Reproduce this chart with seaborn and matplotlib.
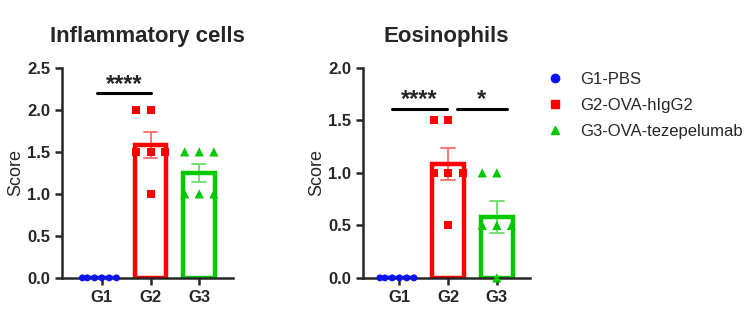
import matplotlib
matplotlib.use("Agg")
import matplotlib.pyplot as plt
import seaborn as sns
import pandas as pd
from matplotlib.lines import Line2D

sns.set_theme(style="ticks")
plt.rcParams['font.family'] = ['Liberation Sans', 'DejaVu Sans']

groups = ["G1", "G2", "G3"]
legend_labels = ["G1-PBS", "G2-OVA-hIgG2", "G3-OVA-tezepelumab"]
colors = ["#0A14F0", "#FF0000", "#00C800"]
markers = ["o", "s", "^"]

inflam_g1 = [0, 0, 0, 0, 0, 0]
inflam_g2 = [2.0, 2.0, 1.5, 1.5, 1.5, 1.0]
inflam_g3 = [1.5, 1.5, 1.5, 1.0, 1.0, 1.0]

eos_g1 = [0, 0, 0, 0, 0, 0]
eos_g2 = [1.5, 1.5, 1.0, 1.0, 1.0, 0.5]
eos_g3 = [1.0, 1.0, 0.5, 0.5, 0.5, 0.0]

titles = ["Inflammatory cells", "Eosinophils"]
ylims = [2.5, 2.0]
yticks = [[0, 0.5, 1.0, 1.5, 2.0, 2.5], [0, 0.5, 1.0, 1.5, 2.0]]
# significance: (x1, x2, y, text)
sig_inflam = [(-0.1, 1.0, 2.2, "****")]
sig_eos = [(-0.15, 0.98, 1.61, "****"), (1.18, 2.2, 1.61, "*")]

# marker visual size (pt) and swarm spacing size (pt)
marker_pt = [5.0, 5.8, 6.6]
spacing_pt = [4.2, 10.0, 10.0]


def make_df(a, b, c):
    return pd.DataFrame({
        "group": ["G1"] * len(a) + ["G2"] * len(b) + ["G3"] * len(c),
        "score": list(a) + list(b) + list(c),
    })


dfs = [make_df(inflam_g1, inflam_g2, inflam_g3), make_df(eos_g1, eos_g2, eos_g3)]
sigs = [sig_inflam, sig_eos]

fig = plt.figure(figsize=(7.56, 3.25), dpi=100)
ax_rects = [[0.082, 0.145, 0.226, 0.646], [0.480, 0.145, 0.221, 0.646]]
xlims = [(-0.82, 2.69), (-0.75, 2.68)]

for i in range(2):
    ax = fig.add_axes(ax_rects[i])
    df = dfs[i]
    sns.barplot(data=df, x="group", y="score", order=groups, hue="group",
                hue_order=groups, palette=colors, fill=False, width=0.65,
                linewidth=3.2, errorbar="se", capsize=0.28,
                err_kws={"linewidth": 1.4, "alpha": 0.55}, legend=False, ax=ax)
    for k, (g, c, m) in enumerate(zip(groups, colors, markers)):
        sub = df[df["group"] == g]
        n_before = len(ax.collections)
        sns.swarmplot(data=sub, x="group", y="score", order=groups, color=c,
                      marker=m, size=marker_pt[k], linewidth=0, ax=ax, zorder=4)
        for coll in list(ax.collections[n_before:]):
            if len(coll.get_offsets()) == 0:
                coll.remove()
                continue
            coll.set_clip_on(False)
            coll.set_edgecolor("none")
            coll.set_linewidth(max(spacing_pt[k] - marker_pt[k], 0))
    ax.set_xlim(*xlims[i])
    ax.set_ylim(0, ylims[i])
    ax.set_yticks(yticks[i])
    ax.set_yticklabels([f"{v:.1f}" for v in yticks[i]])
    ax.set_xlabel("")
    ax.set_ylabel("Score", fontsize=13, labelpad=2)
    ax.set_title(titles[i], fontsize=16, fontweight="bold", pad=19)
    sns.despine(ax=ax)
    for s in ["left", "bottom"]:
        ax.spines[s].set_linewidth(1.8)
    ax.tick_params(axis="both", width=1.8, length=5, labelsize=12)
    for lab in ax.get_xticklabels() + ax.get_yticklabels():
        lab.set_fontweight("bold")
    for x1, x2, y, t in sigs[i]:
        ax.plot([x1, x2], [y, y], color="black", linewidth=2.2, clip_on=False)
        ax.text((x1 + x2) / 2, y + 0.012 * ylims[i], t, ha="center", va="baseline",
                fontsize=17, fontweight="bold")

handles = [Line2D([0], [0], marker=m, color="none", markerfacecolor=c,
                  markeredgecolor=c, markersize=6, linestyle="none")
           for c, m in zip(colors, markers)]
fig.legend(handles, legend_labels, loc="upper left", bbox_to_anchor=(0.698, 0.826),
           frameon=False, fontsize=12, handletextpad=0.75, labelspacing=0.68,
           handlelength=1.5)

fig.savefig("out.png", dpi=100)
